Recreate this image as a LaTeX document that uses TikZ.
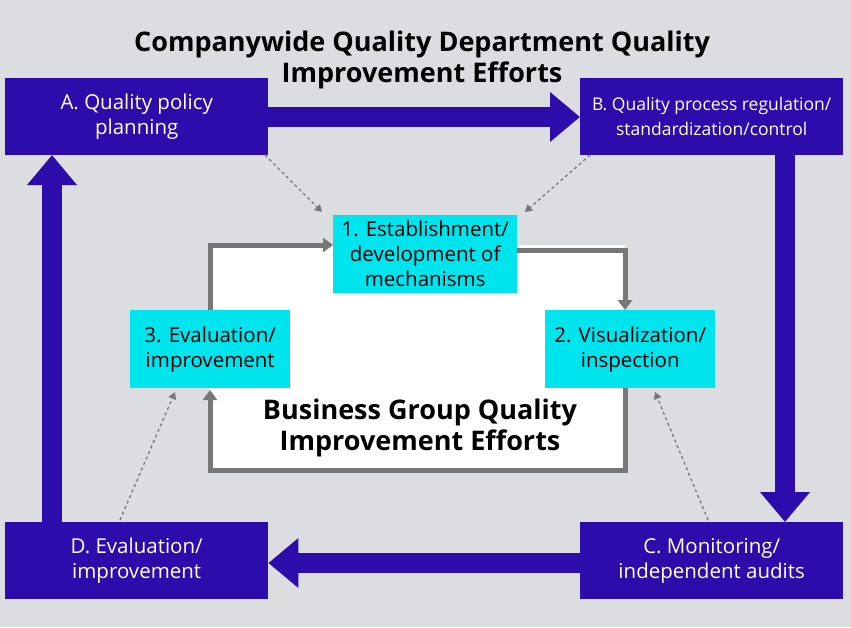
\documentclass[tikz,border=0pt]{standalone}
\usepackage{fontspec}
\setmainfont{Open Sans}
\usetikzlibrary{arrows.meta}
\definecolor{navy}{HTML}{2C0CAA}
\definecolor{cyanbox}{HTML}{00E4EE}
\definecolor{bggray}{HTML}{DCDDE0}
\definecolor{loopgray}{HTML}{777777}
\begin{document}
\begin{tikzpicture}[x=1pt, y=-1pt,
  outer/.style={fill=navy, text=white, minimum width=263pt, minimum height=77pt, align=center, font=\fontsize{20.5}{25}\selectfont, inner sep=1pt, anchor=north west},
  inner/.style={fill=cyanbox, text=black, align=center, font=\fontsize{20.5}{25}\selectfont, inner sep=1pt, anchor=north west},
  big/.style={navy, line width=20pt, -{Triangle[length=30pt, width=48pt]}},
  loop/.style={loopgray, line width=5pt, line join=miter, -{Triangle[length=10pt, width=14pt]}},
  hint/.style={loopgray, dashed, line width=1.3pt, -{Triangle[length=7pt, width=8pt]}},
  title/.style={font=\bfseries\fontsize{27}{31}\selectfont, align=center}]
% Hintergrund
\fill[bggray] (0,0) rectangle (851,627);
\useasboundingbox (0,0) rectangle (851,627);
\fill[white] (210,245) rectangle (625,470);
% Kaesten
\node[outer] (A) at (5,78) {A. Quality policy\\planning};
\node[outer, font=\fontsize{17.5}{25}\selectfont] (B) at (580,78) {B. Quality process regulation/\\standardization/control};
\node[outer] (C) at (580,522) {C. Monitoring/\\independent audits};
\node[outer] (D) at (5,522) {D. Evaluation/\\improvement};
\node[inner, minimum width=184pt, minimum height=78pt] (n1) at (333,215) {1. Establishment/\\development of\\mechanisms};
\node[inner, minimum width=170pt, minimum height=78pt] (n2) at (545,310) {2. Visualization/\\inspection};
\node[inner, minimum width=160pt, minimum height=78pt] (n3) at (130,310) {3. Evaluation/\\improvement};
% Titel
\node[title] (t1) at (422,60) {Companywide Quality Department Quality\\Improvement Efforts};
\node[title] (t2) at (420,428) {Business Group Quality\\Improvement Efforts};
% grosse Pfeile
\draw[big] (A.east |- 0,117) -- (B.west |- 0,117);
\draw[big] (785,155) -- (785,522);
\draw[big] (C.west |- 0,563) -- (D.east |- 0,563);
\draw[big] (52,522) -- (52,155);
% innerer Kreislauf
\draw[loop] (210,310) -- (210,245) -- (n1.west |- 0,245);
\draw[loop] (n1.east |- 0,250) -- (625,250) -- (625,310);
\draw[loop] (625,388) -- (625,470) -- (210,470) -- (210,390);
% gestrichelte Pfeile
\draw[hint] (265,155) -- (322,212);
\draw[hint] (590,155) -- (525,212);
\draw[hint] (120,520) -- (175,392);
\draw[hint] (708,520) -- (655,392);
\end{tikzpicture}
\end{document}
